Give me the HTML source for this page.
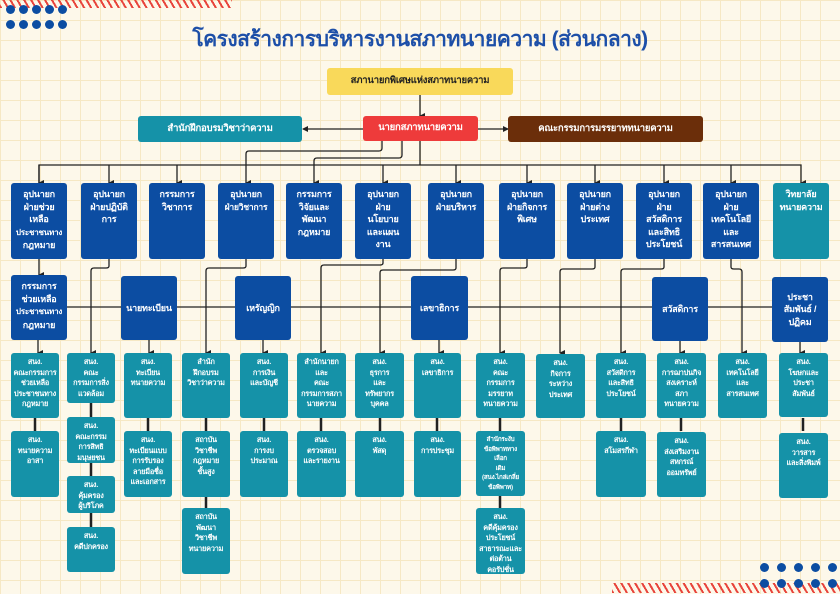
<!DOCTYPE html>
<html><head><meta charset="utf-8">
<style>
body{margin:0}
#p{position:relative;width:840px;height:594px;overflow:hidden;background-color:#fdf8ea;
background-image:linear-gradient(#f6e8c4 1px,transparent 1px),linear-gradient(90deg,#f6e8c4 1px,transparent 1px);background-size:20px 20px;
font-family:"Liberation Sans","DejaVu Sans",sans-serif}
svg{position:absolute;left:0;top:0}
.b{position:absolute;background:#0c4da2;color:#fff;border-radius:3px;font-weight:bold;text-align:center;font-size:9px;line-height:12.5px;padding:5px 0 0;box-sizing:border-box;z-index:2;white-space:nowrap;letter-spacing:-0.2px;overflow:hidden}
.t{position:absolute;background:#1592a8;color:#fff;border-radius:3px;font-weight:bold;text-align:center;font-size:7.3px;line-height:10.5px;padding:4px 0 0;box-sizing:border-box;z-index:2;white-space:nowrap;letter-spacing:-0.2px;overflow:hidden}
.c{display:flex;align-items:center;justify-content:center;padding:0}
.dot{position:absolute;width:9px;height:9px;border-radius:50%;background:#0c4da2}
</style></head><body><div id="p">
<div style="position:absolute;left:0;top:0;width:232px;height:8px;background:repeating-linear-gradient(60deg,#e8453c 0 2px,transparent 2px 6px)"></div>
<div style="position:absolute;left:612px;top:583px;width:228px;height:10px;background:repeating-linear-gradient(60deg,#e8453c 0 2px,transparent 2px 6px)"></div>
<div class="dot" style="left:6px;top:5px"></div><div class="dot" style="left:19px;top:5px"></div><div class="dot" style="left:32px;top:5px"></div><div class="dot" style="left:45px;top:5px"></div><div class="dot" style="left:58px;top:5px"></div>
<div class="dot" style="left:6px;top:20px"></div><div class="dot" style="left:19px;top:20px"></div><div class="dot" style="left:32px;top:20px"></div><div class="dot" style="left:45px;top:20px"></div><div class="dot" style="left:58px;top:20px"></div>
<div class="dot" style="left:760px;top:563px"></div><div class="dot" style="left:777px;top:563px"></div><div class="dot" style="left:794px;top:563px"></div><div class="dot" style="left:811px;top:563px"></div><div class="dot" style="left:828px;top:563px"></div>
<div class="dot" style="left:760px;top:579px"></div><div class="dot" style="left:777px;top:579px"></div><div class="dot" style="left:794px;top:579px"></div><div class="dot" style="left:811px;top:579px"></div><div class="dot" style="left:828px;top:579px"></div>

<div style="position:absolute;left:120px;top:25px;width:600px;text-align:center;font-size:21px;font-weight:bold;color:#1d4fa8;line-height:30px;white-space:nowrap;letter-spacing:-0.5px">โครงสร้างการบริหารงานสภาทนายความ (ส่วนกลาง)</div>

<svg width="840" height="594">
<defs><marker id="a" markerWidth="6" markerHeight="6" refX="3" refY="5" orient="auto" markerUnits="userSpaceOnUse"><path d="M0,0 L6,0 L3,6z" fill="#222"/></marker>
<marker id="l" markerWidth="6" markerHeight="6" refX="5" refY="3" orient="auto-start-reverse" markerUnits="userSpaceOnUse"><path d="M0,0 L6,3 L0,6z" fill="#222"/></marker></defs>
<g stroke="#222" stroke-width="1.3" fill="none">
<path d="M420 95V116" marker-end="url(#a)"/>
<path d="M363 129H303" marker-end="url(#l)"/>
<path d="M478 129H508" marker-end="url(#l)"/>
<path d="M420 141V165"/>
<path d="M39 183V165H801V183" marker-end="url(#a)"/>
<path d="M39 165V183" marker-end="url(#a)"/>
<path d="M109 165V183" marker-end="url(#a)"/><path d="M177 165V183" marker-end="url(#a)"/>
<path d="M383 165V183" marker-end="url(#a)"/><path d="M456 165V183" marker-end="url(#a)"/>
<path d="M527 165V183" marker-end="url(#a)"/><path d="M595 165V183" marker-end="url(#a)"/>
<path d="M664 165V183" marker-end="url(#a)"/><path d="M731 165V183" marker-end="url(#a)"/>
<path d="M382 141V148Q382 151 379 151H249Q246 151 246 154V183" marker-end="url(#a)"/>
<path d="M402 141V155Q402 158 399 158H317Q314 158 314 161V183" marker-end="url(#a)"/>
<path d="M39 258V275" marker-end="url(#a)"/>
<path d="M67 307H772"/>
<path d="M109 258V266Q109 268 106 268H94Q91 268 91 271V353" marker-end="url(#a)"/>
<path d="M246 258V266Q246 268 243 268H209Q206 268 206 271V353" marker-end="url(#a)"/>
<path d="M383 258V263Q383 265 380 265H324Q321 265 321 268V353" marker-end="url(#a)"/>
<path d="M456 258V268Q456 270 453 270H383Q380 270 380 273V353" marker-end="url(#a)"/>
<path d="M527 258V266Q527 268 524 268H503Q500 268 500 271V353" marker-end="url(#a)"/>
<path d="M595 258V267Q595 269 592 269H563Q560 269 560 272V353" marker-end="url(#a)"/>
<path d="M664 258V267Q664 269 661 269H624Q621 269 621 272V353" marker-end="url(#a)"/>
<path d="M731 258V267Q731 269 734 269H739Q742 269 742 272V353" marker-end="url(#a)"/>
<path d="M38 340V353" marker-end="url(#a)"/><path d="M149 340V353" marker-end="url(#a)"/>
<path d="M263 340V353" marker-end="url(#a)"/><path d="M439 340V353" marker-end="url(#a)"/>
<path d="M680 341V353" marker-end="url(#a)"/><path d="M800 342V353" marker-end="url(#a)"/>
</g>
<g stroke="#222" stroke-width="2.5">
<path d="M35 418V431M91 403V417M91 463V476M91 513V527M148 418V431M206 418V431M206 497V508M264 418V431M321 418V431M380 418V431M437 418V431M500 418V431M500 496V508M621 418V431M681 418V431M803 418V431"/>
</g>
</svg>

<div class="b c" style="left:327px;top:68px;width:186px;height:27px;background:#f9d95a;color:#222;font-size:9.5px">สภานายกพิเศษแห่งสภาทนายความ</div>
<div class="b c" style="left:363px;top:116px;width:115px;height:25px;background:#ee3b3b;font-size:9.5px">นายกสภาทนายความ</div>
<div class="b c" style="left:138px;top:116px;width:164px;height:26px;background:#1592a8;font-size:9.5px">สำนักฝึกอบรมวิชาว่าความ</div>
<div class="b c" style="left:508px;top:116px;width:195px;height:26px;background:#6b2e0a;font-size:9.5px">คณะกรรมการมรรยาททนายความ</div>

<div class="b" style="left:11px;top:183px;width:56px;height:76px">อุปนายก<br>ฝ่ายช่วย<br>เหลือ<br><span style="font-size:8px">ประชาชนทาง</span><br>กฎหมาย</div>
<div class="b" style="left:81px;top:183px;width:56px;height:76px">อุปนายก<br>ฝ่ายปฏิบัติ<br>การ</div>
<div class="b" style="left:149px;top:183px;width:56px;height:76px">กรรมการ<br>วิชาการ</div>
<div class="b" style="left:218px;top:183px;width:56px;height:76px">อุปนายก<br><span style="font-size:8.5px">ฝ่ายวิชาการ</span></div>
<div class="b" style="left:286px;top:183px;width:56px;height:76px">กรรมการ<br>วิจัยและ<br>พัฒนา<br>กฎหมาย</div>
<div class="b" style="left:355px;top:183px;width:56px;height:76px">อุปนายก<br>ฝ่าย<br>นโยบาย<br>และแผน<br>งาน</div>
<div class="b" style="left:428px;top:183px;width:56px;height:76px">อุปนายก<br>ฝ่ายบริหาร</div>
<div class="b" style="left:499px;top:183px;width:56px;height:76px">อุปนายก<br>ฝ่ายกิจการ<br>พิเศษ</div>
<div class="b" style="left:567px;top:183px;width:56px;height:76px">อุปนายก<br>ฝ่ายต่าง<br>ประเทศ</div>
<div class="b" style="left:636px;top:183px;width:56px;height:76px">อุปนายก<br>ฝ่าย<br>สวัสดิการ<br>และสิทธิ<br>ประโยชน์</div>
<div class="b" style="left:703px;top:183px;width:56px;height:76px">อุปนายก<br>ฝ่าย<br>เทคโนโลยี<br>และ<br>สารสนเทศ</div>
<div class="b" style="left:773px;top:183px;width:56px;height:76px;background:#1592a8">วิทยาลัย<br>ทนายความ</div>

<div class="b" style="left:11px;top:275px;width:56px;height:65px">กรรมการ<br>ช่วยเหลือ<br><span style="font-size:8px">ประชาชนทาง</span><br>กฎหมาย</div>
<div class="b c" style="left:121px;top:276px;width:56px;height:64px">นายทะเบียน</div>
<div class="b c" style="left:235px;top:276px;width:56px;height:64px">เหรัญญิก</div>
<div class="b c" style="left:411px;top:276px;width:57px;height:64px">เลขาธิการ</div>
<div class="b c" style="left:652px;top:277px;width:56px;height:64px">สวัสดิการ</div>
<div class="b c" style="left:772px;top:277px;width:56px;height:65px">ประชา<br>สัมพันธ์ /<br>ปฏิคม</div>

<div class="t" style="left:11px;top:353px;width:48px;height:65px">สนง.<br>คณะกรรมการ<br>ช่วยเหลือ<br>ประชาชนทาง<br>กฎหมาย</div>
<div class="t" style="left:11px;top:431px;width:48px;height:66px">สนง.<br>ทนายความ<br>อาสา</div>
<div class="t" style="left:67px;top:353px;width:48px;height:50px">สนง.<br>คณะ<br>กรรมการสิ่ง<br>แวดล้อม</div>
<div class="t" style="left:67px;top:417px;width:48px;height:46px">สนง.<br>คณะกรรม<br>การสิทธิ<br>มนุษยชน</div>
<div class="t" style="left:67px;top:476px;width:48px;height:37px">สนง.<br>คุ้มครอง<br>ผู้บริโภค</div>
<div class="t" style="left:67px;top:527px;width:48px;height:45px">สนง.<br>คดีปกครอง</div>
<div class="t" style="left:124px;top:353px;width:48px;height:65px">สนง.<br>ทะเบียน<br>ทนายความ</div>
<div class="t" style="left:124px;top:431px;width:48px;height:66px">สนง.<br>ทะเบียนแบบ<br>การรับรอง<br>ลายมือชื่อ<br>และเอกสาร</div>
<div class="t" style="left:182px;top:353px;width:48px;height:65px">สำนัก<br>ฝึกอบรม<br>วิชาว่าความ</div>
<div class="t" style="left:182px;top:431px;width:48px;height:66px">สถาบัน<br>วิชาชีพ<br>กฎหมาย<br>ชั้นสูง</div>
<div class="t" style="left:182px;top:508px;width:48px;height:66px">สถาบัน<br>พัฒนา<br>วิชาชีพ<br>ทนายความ</div>
<div class="t" style="left:240px;top:353px;width:48px;height:65px">สนง.<br>การเงิน<br>และบัญชี</div>
<div class="t" style="left:240px;top:431px;width:48px;height:66px">สนง.<br>การงบ<br>ประมาณ</div>
<div class="t" style="left:297px;top:353px;width:49px;height:65px">สำนักนายก<br>และ<br>คณะ<br>กรรมการสภา<br>นายความ</div>
<div class="t" style="left:297px;top:431px;width:49px;height:66px">สนง.<br>ตรวจสอบ<br>และรายงาน</div>
<div class="t" style="left:355px;top:353px;width:49px;height:65px">สนง.<br>ธุรการ<br>และ<br>ทรัพยากร<br>บุคคล</div>
<div class="t" style="left:355px;top:431px;width:49px;height:66px">สนง.<br>พัสดุ</div>
<div class="t" style="left:414px;top:353px;width:47px;height:65px">สนง.<br>เลขาธิการ</div>
<div class="t" style="left:414px;top:431px;width:47px;height:66px">สนง.<br>การประชุม</div>
<div class="t" style="left:476px;top:353px;width:49px;height:65px">สนง.<br>คณะ<br>กรรมการ<br>มรรยาท<br>ทนายความ</div>
<div class="t" style="left:476px;top:431px;width:49px;height:65px;font-size:6.3px;line-height:9.5px">สำนักระงับ<br>ข้อพิพาททาง<br>เลือก<br>เดิม<br>(สนง.ไกล่เกลี่ย<br>ข้อพิพาท)</div>
<div class="t" style="left:476px;top:508px;width:49px;height:66px">สนง.<br>คดีคุ้มครอง<br>ประโยชน์<br>สาธารณะและ<br>ต่อต้าน<br>คอรัปชั่น</div>
<div class="t" style="left:536px;top:354px;width:49px;height:64px">สนง.<br>กิจการ<br>ระหว่าง<br>ประเทศ</div>
<div class="t" style="left:596px;top:353px;width:50px;height:65px">สนง.<br>สวัสดิการ<br>และสิทธิ<br>ประโยชน์</div>
<div class="t" style="left:596px;top:431px;width:50px;height:66px">สนง.<br>สโมสรกีฬา</div>
<div class="t" style="left:657px;top:353px;width:49px;height:65px">สนง.<br>การฌาปนกิจ<br>สงเคราะห์<br>สภา<br>ทนายความ</div>
<div class="t" style="left:657px;top:432px;width:49px;height:65px">สนง.<br>ส่งเสริมงาน<br>สหกรณ์<br>ออมทรัพย์</div>
<div class="t" style="left:718px;top:353px;width:49px;height:65px">สนง.<br>เทคโนโลยี<br>และ<br>สารสนเทศ</div>
<div class="t" style="left:779px;top:353px;width:49px;height:64px">สนง.<br>โฆษกและ<br>ประชา<br>สัมพันธ์</div>
<div class="t" style="left:779px;top:433px;width:49px;height:65px">สนง.<br>วารสาร<br>และสิ่งพิมพ์</div>
</div></body></html>
